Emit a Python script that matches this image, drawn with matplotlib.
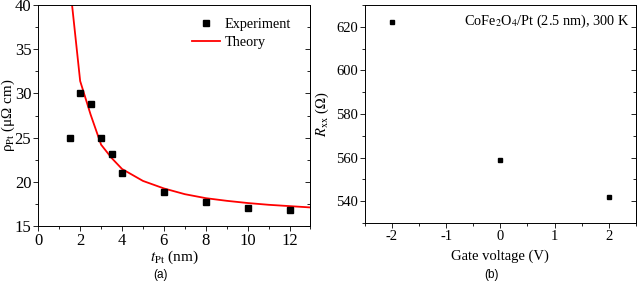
import matplotlib
matplotlib.use('Agg')
import matplotlib.pyplot as plt
from matplotlib.ticker import MultipleLocator

plt.rcParams['font.family'] = 'Liberation Serif'
plt.rcParams['mathtext.fontset'] = 'stix'
plt.rcParams['axes.unicode_minus'] = False

# panel (a): Pt resistivity vs thickness
t_exp = [1.5, 2, 2.5, 3, 3.5, 4, 6, 8, 10, 12]
rho_exp = [25.0, 30.0, 28.8, 24.9, 23.2, 21.0, 18.8, 17.7, 17.0, 16.8]
t_theory = [1.5, 2, 2.5, 3, 3.5, 4, 5, 6, 7, 8, 9, 10, 11, 12, 13]
rho_theory = [42.5, 31.4, 27.6, 24.2, 22.7, 21.45, 20.1, 19.25, 18.6, 18.15,
              17.85, 17.6, 17.4, 17.25, 17.1]

# panel (b): Rxx vs gate voltage
gate_v = [-2, 0, 2]
rxx = [622, 559, 542]

fig = plt.figure(figsize=(6.37, 2.81), dpi=100)
ax1 = fig.add_axes([0.0601, 0.1957, 0.4273, 0.7865])
ax2 = fig.add_axes([0.5725, 0.2064, 0.4259, 0.7758])

ax1.plot(t_exp, rho_exp, 's', color='black', ms=4.5, ls='none', label='Experiment', zorder=3)
ax1.plot(t_theory, rho_theory, color='red', lw=1.3, label='Theory')
ax1.set_xlim(0, 13)
ax1.set_ylim(15, 40)
ax1.xaxis.set_major_locator(MultipleLocator(2))
ax1.xaxis.set_minor_locator(MultipleLocator(1))
ax1.yaxis.set_major_locator(MultipleLocator(5))
ax1.yaxis.set_minor_locator(MultipleLocator(2.5))
ax1.set_xlabel(r'$t_{\rm Pt}$ (nm)', fontsize=11, labelpad=0)
ax1.set_ylabel('ρ$_{\\rm Pt}$ (μΩ cm)', fontsize=10.8)
ax1.yaxis.set_label_coords(-0.078, 0.5)
ax1.legend(loc='upper right', frameon=False, fontsize=10.3, handlelength=2.0,
           borderaxespad=0.3, handletextpad=0.3, labelspacing=0.3,
           bbox_to_anchor=(0.965, 0.985))

ax2.plot(gate_v, rxx, 's', color='black', ms=3.4, ls='none')
ax2.set_xlim(-2.5, 2.5)
ax2.set_ylim(530, 630)
ax2.xaxis.set_major_locator(MultipleLocator(1))
ax2.xaxis.set_minor_locator(MultipleLocator(0.5))
ax2.yaxis.set_major_locator(MultipleLocator(20))
ax2.yaxis.set_minor_locator(MultipleLocator(10))
ax2.set_xlabel('Gate voltage (V)', fontsize=10.5, labelpad=5)
ax2.set_ylabel(r'$R_{\rm xx}$ ($\Omega$)', fontsize=10.5)
ax2.yaxis.set_label_coords(-0.124, 0.5)
ax2.text(0.975, 0.925, r'CoFe$_2$O$_4$/Pt (2.5 nm), 300 K', transform=ax2.transAxes,
         ha='right', va='center', fontsize=10.3)

for ax, lsz in ((ax1, 12.0), (ax2, 10.5)):
    ax.tick_params(which='both', direction='out', labelsize=lsz, pad=1.5)
    ax.tick_params(which='major', length=3.5, width=0.6)
    ax.tick_params(which='minor', length=2, width=0.6)
    for s in ax.spines.values():
        s.set_linewidth(0.7)
    sec = ax.secondary_yaxis('right')
    sec.yaxis.set_major_locator(ax.yaxis.get_major_locator())
    sec.yaxis.set_minor_locator(ax.yaxis.get_minor_locator())
    sec.tick_params(which='both', direction='in', labelright=False)
    sec.tick_params(which='major', length=3.5, width=0.6)
    sec.tick_params(which='minor', length=2, width=0.6)
    sec.spines['right'].set_linewidth(0.7)

fig.text(161 / 637, 1 - 275 / 281, '(a)', ha='center', va='center',
         fontsize=8.5, family='Liberation Sans')
fig.text(491 / 637, 1 - 275 / 281, '(b)', ha='center', va='center',
         fontsize=8.5, family='Liberation Sans')

fig.savefig('out.png', dpi=100)
